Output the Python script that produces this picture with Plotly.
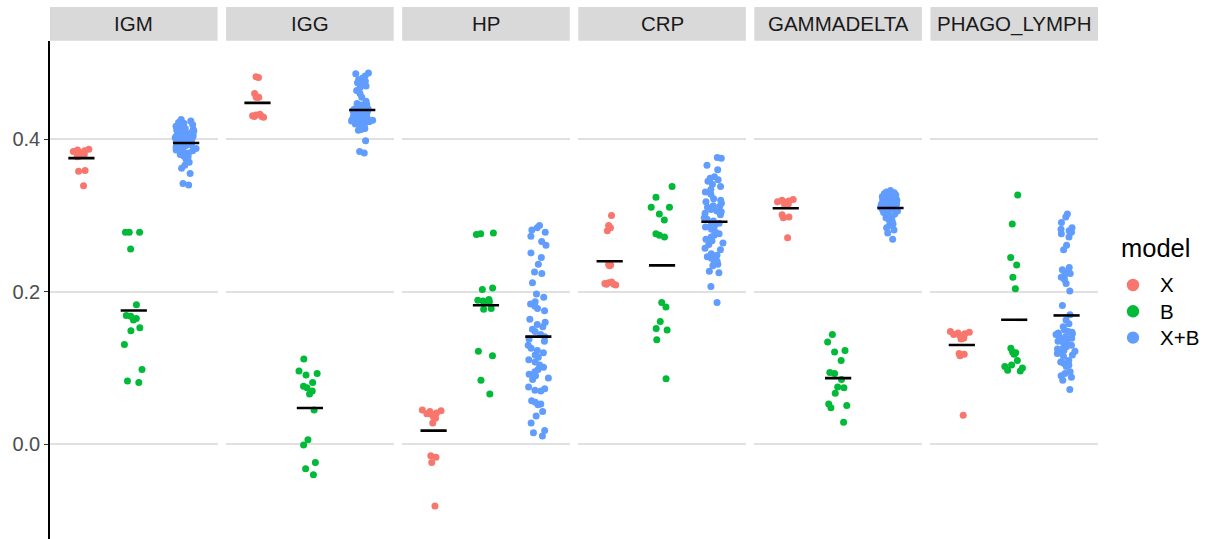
import numpy as np
import plotly.graph_objects as go

# Panels and model groups
facets = ["IGM", "IGG", "HP", "CRP", "GAMMADELTA", "PHAGO_LYMPH"]
models = ["X", "B", "X+B"]
model_colors = {"X": "#F8766D", "B": "#00BA38", "X+B": "#619CFF"}

# ---- IGM ----
igm_x = [0.387, 0.386, 0.385, 0.384, 0.383, 0.382, 0.381, 0.380, 0.378, 0.377,
         0.359, 0.358, 0.339]
igm_b = [0.278, 0.278, 0.278, 0.256, 0.183, 0.169, 0.168, 0.165, 0.163, 0.153,
         0.149, 0.131, 0.098, 0.083, 0.081]
igm_xb = [0.426, 0.424, 0.422, 0.421, 0.419, 0.418, 0.417, 0.416, 0.414, 0.413,
          0.412, 0.411, 0.410, 0.409, 0.408, 0.407, 0.406, 0.405, 0.404, 0.403,
          0.402, 0.401, 0.400, 0.399, 0.398, 0.397, 0.396, 0.395, 0.394, 0.393,
          0.392, 0.391, 0.390, 0.389, 0.388, 0.387, 0.386, 0.385, 0.384, 0.382,
          0.380, 0.378, 0.377, 0.374, 0.370, 0.366, 0.362, 0.355, 0.342, 0.340]

# ---- IGG ----
igg_x = [0.482, 0.481, 0.460, 0.455, 0.455, 0.455, 0.433, 0.431, 0.430, 0.430,
         0.429, 0.432]
igg_b = [0.112, 0.096, 0.093, 0.091, 0.081, 0.076, 0.074, 0.070, 0.066, 0.045,
         0.006, -0.001, -0.024, -0.032, -0.040]
igg_xb = [0.487, 0.486, 0.483, 0.480, 0.478, 0.476, 0.474, 0.472, 0.470, 0.468,
          0.464, 0.460, 0.455, 0.450, 0.447, 0.428, 0.426, 0.424, 0.421, 0.419,
          0.446, 0.445, 0.444, 0.443, 0.442, 0.441, 0.440, 0.439, 0.438, 0.437,
          0.436, 0.435, 0.434, 0.433, 0.432, 0.431, 0.430, 0.429, 0.428, 0.427,
          0.426, 0.425, 0.424, 0.423, 0.422, 0.420, 0.418, 0.416, 0.414, 0.413,
          0.412, 0.398, 0.384, 0.382]

# ---- HP ----
hp_x = [0.045, 0.044, 0.043, 0.041, 0.040, 0.039, 0.038, 0.036, 0.034, 0.028,
        -0.015, -0.017, -0.024, -0.081]
hp_b = [0.277, 0.276, 0.275, 0.205, 0.203, 0.190, 0.189, 0.188, 0.187, 0.186,
        0.178, 0.177, 0.122, 0.116, 0.084, 0.066]
hp_xb = [0.287, 0.284, 0.281, 0.278, 0.273, 0.266, 0.261, 0.251, 0.245, 0.236,
         0.226, 0.224, 0.212, 0.197, 0.193, 0.187, 0.184, 0.181, 0.178, 0.175,
         0.164, 0.160, 0.157, 0.154, 0.151, 0.148, 0.144, 0.141, 0.138, 0.135,
         0.130, 0.126, 0.123, 0.120, 0.117, 0.114, 0.111, 0.108, 0.104, 0.101,
         0.098, 0.095, 0.092, 0.090, 0.087, 0.085, 0.075, 0.073, 0.071, 0.070,
         0.057, 0.055, 0.053, 0.052, 0.043, 0.037, 0.028, 0.018, 0.015, 0.011]

# ---- CRP ----
crp_x = [0.300, 0.284, 0.287, 0.280, 0.236, 0.234, 0.235, 0.213, 0.212, 0.211,
         0.210, 0.210, 0.209]
crp_b = [0.338, 0.324, 0.311, 0.311, 0.302, 0.294, 0.276, 0.274, 0.272, 0.186,
         0.180, 0.161, 0.152, 0.150, 0.137, 0.086]
crp_xb = [0.376, 0.375, 0.366, 0.360, 0.351, 0.349, 0.347, 0.341, 0.338, 0.334,
          0.331, 0.320, 0.318, 0.316, 0.313, 0.311, 0.308, 0.306, 0.305, 0.303,
          0.301, 0.297, 0.295, 0.293, 0.290, 0.288, 0.286, 0.285, 0.282, 0.278,
          0.276, 0.274, 0.272, 0.269, 0.267, 0.264, 0.262, 0.257, 0.255, 0.250,
          0.248, 0.246, 0.244, 0.240, 0.238, 0.236, 0.234, 0.227, 0.225, 0.207,
          0.186, 0.345, 0.328, 0.322, 0.312]

# ---- GAMMADELTA ----
gd_x = [0.321, 0.320, 0.319, 0.318, 0.318, 0.317, 0.316, 0.315, 0.314, 0.301,
        0.298, 0.297, 0.271]
gd_b = [0.144, 0.134, 0.123, 0.121, 0.110, 0.094, 0.093, 0.085, 0.075, 0.074,
        0.067, 0.053, 0.051, 0.048, 0.029]
gd_xb = [0.333, 0.331, 0.330, 0.329, 0.328, 0.327, 0.326, 0.325, 0.324, 0.323,
         0.322, 0.321, 0.320, 0.320, 0.319, 0.318, 0.318, 0.317, 0.316, 0.316,
         0.315, 0.314, 0.314, 0.313, 0.312, 0.312, 0.311, 0.310, 0.310, 0.309,
         0.311, 0.310, 0.309, 0.308, 0.307, 0.306, 0.305, 0.304, 0.302, 0.300,
         0.299, 0.297, 0.295, 0.293, 0.291, 0.289, 0.287, 0.284, 0.281, 0.277,
         0.269]

# ---- PHAGO_LYMPH ----
pl_x = [0.148, 0.147, 0.146, 0.145, 0.144, 0.143, 0.142, 0.141, 0.139, 0.138,
        0.119, 0.118, 0.116, 0.038]
pl_b = [0.327, 0.289, 0.245, 0.235, 0.219, 0.204, 0.126, 0.121, 0.120, 0.118,
        0.110, 0.104, 0.102, 0.100, 0.097, 0.096]
pl_xb = [0.302, 0.291, 0.284, 0.282, 0.280, 0.278, 0.276, 0.261, 0.229, 0.226,
         0.224, 0.222, 0.219, 0.216, 0.211, 0.201, 0.182, 0.170, 0.163, 0.158,
         0.154, 0.150, 0.148, 0.147, 0.146, 0.145, 0.144, 0.143, 0.141, 0.139,
         0.137, 0.136, 0.135, 0.133, 0.131, 0.130, 0.128, 0.126, 0.125, 0.123,
         0.122, 0.121, 0.119, 0.117, 0.115, 0.110, 0.108, 0.106, 0.104, 0.102,
         0.095, 0.093, 0.090, 0.088, 0.084, 0.072, 0.298, 0.272, 0.255, 0.232]

panel_data = {
    "IGM": [igm_x, igm_b, igm_xb],
    "IGG": [igg_x, igg_b, igg_xb],
    "HP": [hp_x, hp_b, hp_xb],
    "CRP": [crp_x, crp_b, crp_xb],
    "GAMMADELTA": [gd_x, gd_b, gd_xb],
    "PHAGO_LYMPH": [pl_x, pl_b, pl_xb],
}

# ---- layout geometry ----
W, H = 1208, 539
m_l, m_r, m_t, m_b = 50, 110, 7, 0
plot_w = W - m_l - m_r
plot_h = H - m_t - m_b
gap_px = 8.5
panel_px = (plot_w - 5 * gap_px) / 6
strip_px = 33.7
y_top = 1 - strip_px / plot_h
y_range = [-0.1242, 0.5293]

FONT = "Liberation Sans, Arial, Helvetica, sans-serif"


def px_to_paper_x(px):
    return (px - m_l) / plot_w


def px_to_paper_y(py):
    return (H - m_b - py) / plot_h


fig = go.Figure()
layout_axes = {}
shapes = []
annotations = []

for i, facet in enumerate(facets):
    x0 = i * (panel_px + gap_px) / plot_w
    x1 = min(1.0, x0 + panel_px / plot_w)
    sfx = "" if i == 0 else str(i + 1)
    xa, ya = "x" + sfx, "y" + sfx

    for k, (model, vals) in enumerate(zip(models, panel_data[facet])):
        pos = k + 1
        # jittered points (box itself is invisible)
        fig.add_trace(go.Box(
            x=[pos] * len(vals), y=vals, xaxis=xa, yaxis=ya,
            boxpoints="all", jitter=0.56, pointpos=0, width=0.8,
            fillcolor="rgba(0,0,0,0)",
            line=dict(color="rgba(0,0,0,0)", width=0),
            marker=dict(color=model_colors[model], size=7, line=dict(width=0)),
            showlegend=False, hoverinfo="y", name=model,
        ))
    for k, (model, vals) in enumerate(zip(models, panel_data[facet])):
        pos = k + 1
        m = float(np.mean(vals))
        fig.add_trace(go.Scatter(
            x=[pos - 0.25, pos + 0.25], y=[m, m], xaxis=xa, yaxis=ya,
            mode="lines", line=dict(color="black", width=2.6),
            showlegend=False, hoverinfo="skip",
        ))

    layout_axes["xaxis" + sfx] = dict(
        domain=[x0, x1], range=[0.4, 3.6], showgrid=False, zeroline=False,
        showticklabels=False, ticks="", showline=False, anchor=ya,
    )
    ydict = dict(
        domain=[0, y_top], range=y_range, anchor=xa,
        tickvals=[0.0, 0.2, 0.4], ticktext=["0.0", "0.2", "0.4"],
        showgrid=True, gridcolor="#E0E0E0", gridwidth=1.6, zeroline=False,
    )
    if i == 0:
        ydict.update(showline=True, linecolor="black", linewidth=1.5,
                     ticks="outside", ticklen=4, tickcolor="#333333", tickwidth=1.2,
                     tickfont=dict(family=FONT, size=20, color="#4D4D4D"))
    else:
        ydict.update(showticklabels=False, ticks="", showline=False,
                     matches="y")
    layout_axes["yaxis" + sfx] = ydict

    # facet strip
    shapes.append(dict(type="rect", xref="paper", yref="paper",
                       x0=x0, x1=x1, y0=y_top, y1=1.0,
                       fillcolor="#D9D9D9", line=dict(width=0), layer="below"))
    annotations.append(dict(text=facet, xref="paper", yref="paper",
                            x=(x0 + x1) / 2, y=(y_top + 1.0) / 2,
                            xanchor="center", yanchor="middle", showarrow=False,
                            font=dict(family=FONT, size=20.5, color="#1A1A1A")))

# legend: title, colour keys and labels
annotations.append(dict(text="model", xref="paper", yref="paper",
                        x=px_to_paper_x(1119), y=px_to_paper_y(248),
                        xanchor="left", yanchor="middle", showarrow=False,
                        font=dict(family=FONT, size=25.5, color="black")))
legend_rows_px = [285, 311.3, 337.6]
key_r = 6.2
for model, py in zip(models, legend_rows_px):
    cx = 1133
    shapes.append(dict(type="circle", xref="paper", yref="paper",
                       x0=px_to_paper_x(cx - key_r), x1=px_to_paper_x(cx + key_r),
                       y0=px_to_paper_y(py + key_r), y1=px_to_paper_y(py - key_r),
                       fillcolor=model_colors[model], line=dict(width=0)))
    annotations.append(dict(text=model, xref="paper", yref="paper",
                            x=px_to_paper_x(1158), y=px_to_paper_y(py),
                            xanchor="left", yanchor="middle", showarrow=False,
                            font=dict(family=FONT, size=20.5, color="black")))

fig.update_layout(
    width=W, height=H,
    margin=dict(l=m_l, r=m_r, t=m_t, b=m_b),
    paper_bgcolor="white", plot_bgcolor="white",
    font=dict(family=FONT, color="#1A1A1A"),
    shapes=shapes, annotations=annotations,
    boxmode="overlay", showlegend=False,
    **layout_axes,
)

fig.write_html("out.html")
